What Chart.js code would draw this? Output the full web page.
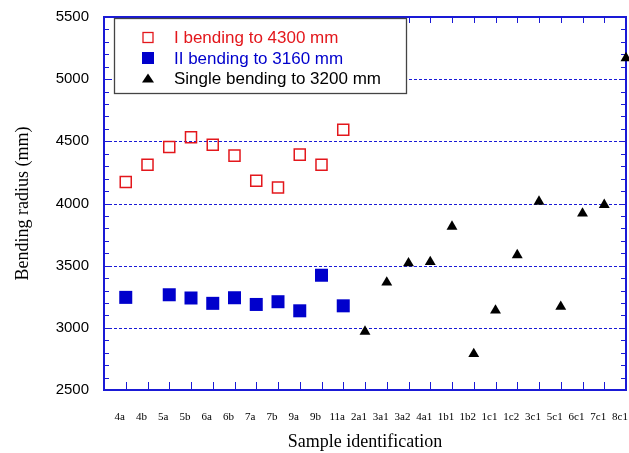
<!DOCTYPE html>
<html>
<head>
<meta charset="utf-8">
<script src="https://cdn.jsdelivr.net/npm/chart.js@4"></script>
<style>
html,body{margin:0;padding:0;background:#fff;}
#wrap{position:relative;width:629px;height:453px;}
</style>
</head>
<body>
<div id="wrap"><canvas id="c" width="629" height="453"></canvas></div>
<script>
const categories = ["4a","4b","5a","5b","6a","6b","7a","7b","9a","9b","11a","2a1","3a1","3a2","4a1","1b1","1b2","1c1","1c2","3c1","5c1","6c1","7c1","8c1"];
const firstBending = [4173,4312,4455,4532,4473,4385,4183,4129,4393,4312,4594,null,null,null,null,null,null,null,null,null,null,null,null,null];
const secondBending = [3245,null,3266,3240,3197,3242,3188,3210,3137,3423,3177,null,null,null,null,null,null,null,null,null,null,null,null,null];
const singleBending = [null,null,null,null,null,null,null,null,null,null,null,2970,3365,3520,3530,3815,2790,3140,3585,4015,3170,3920,3990,5170];
const yTicks = [2500,3000,3500,4000,4500,5000,5500];
const seriesLabels = ["I bending to 4300 mm","II bending to 3160 mm","Single bending to 3200 mm"];

const RED = '#e3171c', BLUE = '#0000cc', AXIS = '#1a1ad6';

function toPoints(arr){ const out=[]; arr.forEach((v,i)=>{ if(v!==null) out.push({x:i,y:v}); }); return out; }

const framePlugin = {
  id:'frame',
  beforeDatasetsDraw(chart){
    const {ctx, chartArea:a, scales:{x,y}} = chart;
    ctx.save();
    ctx.strokeStyle = AXIS; ctx.lineWidth = 1; ctx.setLineDash([3,2]);
    yTicks.forEach(v=>{ if(v===2500||v===5500) return; const py=Math.round(y.getPixelForValue(v))+0.5; ctx.beginPath(); ctx.moveTo(a.left,py); ctx.lineTo(a.right,py); ctx.stroke(); });
    ctx.setLineDash([]);
    for(let v=2600; v<5500; v+=100){
      const py=Math.round(y.getPixelForValue(v))+0.5;
      const len = (v%500===0)?7:5;
      ctx.beginPath(); ctx.moveTo(a.left,py); ctx.lineTo(a.left+len,py); ctx.moveTo(a.right,py); ctx.lineTo(a.right-len,py); ctx.stroke();
    }
    for(let i=0;i<categories.length;i++){
      const px=Math.round(x.getPixelForValue(i))+0.5;
      ctx.beginPath(); ctx.moveTo(px,a.bottom); ctx.lineTo(px,a.bottom-8); ctx.moveTo(px,a.top); ctx.lineTo(px,a.top+6); ctx.stroke();
    }
    ctx.lineWidth = 2;
    ctx.strokeRect(a.left, a.top, a.right-a.left, a.bottom-a.top);
    ctx.restore();
  },
  afterDraw(chart){
    const ctx = chart.ctx;
    ctx.save();
    const bx=114, by=18, bw=292, bh=75;
    ctx.fillStyle='#fff'; ctx.fillRect(bx,by,bw,bh);
    ctx.strokeStyle='#444'; ctx.lineWidth=1.3; ctx.strokeRect(bx+0.5,by+0.5,bw,bh);
    const rows=[37.5,58,78.5];
    const colors=[RED,BLUE,'#000'];
    ctx.font='17px "Liberation Sans", Arial, sans-serif';
    ctx.textBaseline='middle'; ctx.textAlign='left';
    chart.data.datasets.forEach((ds,i)=>{
      const cy=rows[i], cx=148;
      if(i===0){ ctx.strokeStyle=RED; ctx.lineWidth=1.3; ctx.strokeRect(cx-5,cy-5,10,10); }
      else if(i===1){ ctx.fillStyle=BLUE; ctx.fillRect(cx-6,cy-6,12,12); }
      else { ctx.fillStyle='#000'; ctx.beginPath(); ctx.moveTo(cx,cy-5); ctx.lineTo(cx+6,cy+4); ctx.lineTo(cx-6,cy+4); ctx.closePath(); ctx.fill(); }
      ctx.fillStyle=colors[i];
      ctx.fillText(ds.label, 174, cy+1);
    });
    ctx.restore();
  }
};

new Chart(document.getElementById('c'), {
  type:'scatter',
  data:{
    datasets:[
      {label:seriesLabels[0], data:toPoints(firstBending), pointStyle:'rect', pointRadius:7.8, borderColor:RED, backgroundColor:'rgba(255,255,255,0)', borderWidth:1.5, clip:false},
      {label:seriesLabels[1], data:toPoints(secondBending), pointStyle:'rect', pointRadius:9.2, borderColor:BLUE, backgroundColor:BLUE, borderWidth:0, clip:false},
      {label:seriesLabels[2], data:toPoints(singleBending), pointStyle:'triangle', pointRadius:6.3, borderColor:'#000', backgroundColor:'#000', borderWidth:0, clip:false}
    ]
  },
  options:{
    responsive:false, animation:false,
    layout:{autoPadding:false, padding:{left:12,right:3,top:17,bottom:0}},
    plugins:{legend:{display:false}, tooltip:{enabled:false}},
    elements:{point:{hoverRadius:0}},
    scales:{
      x:{
        type:'linear', min:-1, max:23,
        grid:{display:false, drawTicks:false}, border:{display:false},
        afterBuildTicks(s){ s.ticks = categories.map((c,i)=>({value:i})); },
        afterFit(s){ s.height=63; s.paddingLeft=0; s.paddingRight=0; },
        ticks:{ autoSkip:false, maxRotation:0, minRotation:0, padding:21, labelOffset:-6, color:'#000',
          font:{family:'"Liberation Serif", "Times New Roman", serif', size:11},
          callback:(v)=> categories[v] ?? '' },
        title:{display:true, text:'Sample identification', color:'#000', padding:0,
          font:{family:'"Liberation Serif", "Times New Roman", serif', size:18}}
      },
      y:{
        min:2500, max:5500,
        grid:{display:false, drawTicks:false}, border:{display:false},
        afterBuildTicks(s){ s.ticks = yTicks.map(v=>({value:v})); },
        afterFit(s){ s.width=92; s.paddingTop=0; s.paddingBottom=0; },
        ticks:{ padding:15, color:'#000', font:{family:'"Liberation Sans", Arial, sans-serif', size:15},
          callback:(v)=> String(v) },
        title:{display:true, text:'Bending radius (mm)', color:'#000', padding:0,
          font:{family:'"Liberation Serif", "Times New Roman", serif', size:18}}
      }
    }
  },
  plugins:[framePlugin]
});
</script>
</body>
</html>
